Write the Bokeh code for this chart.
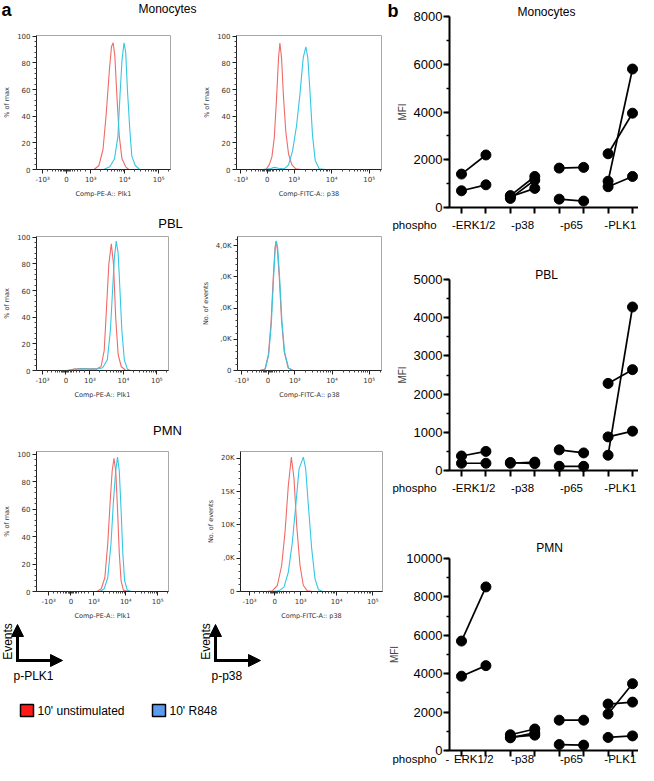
import numpy as np
from bokeh.plotting import figure
from bokeh.layouts import row, column
from bokeh.models import (Range1d, FixedTicker, Arrow, NormalHead, SingleIntervalTicker)
from bokeh.core.properties import value
from bokeh.embed import file_html
from bokeh.resources import INLINE

RED = "#ef6b67"
CYAN = "#35c6e4"
FLOW_FONT = "DejaVu Sans"
SANS = "Liberation Sans"

# ---------------- panel a : flow cytometry histograms ----------------
# x = biexponential display position in decades (-10^3 -> 1.58, 0 -> 2.28, 10^3 -> 3, 10^4 -> 4, 10^5 -> 5)
hist_tick_pos = [1.58, 2.28, 3.0, 4.0, 5.0]
hist_tick_labels = ["-10³", "0", "10³", "10⁴", "10⁵"]

mono_plk1_unstim_x = [1.4, 3.10, 3.24, 3.36, 3.45, 3.55, 3.61, 3.66, 3.71, 3.77, 3.84, 3.92, 4.03, 4.12, 5.35]
mono_plk1_unstim_y = [0, 0, 3, 15, 40, 75, 92, 95, 85, 55, 25, 8, 2, 0, 0]
mono_plk1_r848_x = [1.4, 3.38, 3.56, 3.70, 3.80, 3.86, 3.92, 3.98, 4.03, 4.08, 4.15, 4.21, 4.31, 4.44, 5.35]
mono_plk1_r848_y = [0, 0, 2, 8, 25, 55, 82, 95, 88, 60, 30, 10, 3, 0, 0]

mono_p38_unstim_x = [1.4, 2.244, 2.333, 2.404, 2.467, 2.529, 2.582, 2.618, 2.662, 2.716, 2.778, 2.849, 2.938, 3.044, 3.178, 5.35]
mono_p38_unstim_y = [0, 0, 3.5, 9.3, 23.3, 53.5, 83.7, 94.9, 83.7, 53.5, 27.9, 11.6, 3.5, 0.5, 0, 0]
mono_p38_r848_x = [1.4, 2.156, 2.378, 2.467, 2.582, 2.733, 2.849, 2.956, 3.062, 3.151, 3.24, 3.311, 3.364, 3.427, 3.489, 3.56, 3.667, 3.844, 5.35]
mono_p38_r848_y = [0, 0, 0.7, 1.6, 0.9, 0.5, 3.5, 14, 32.6, 55.8, 83.7, 91.9, 83.7, 55.8, 25.6, 7, 0.5, 0, 0]

pbl_plk1_unstim_x = [1.4, 2.315, 2.5, 2.731, 2.963, 3.194, 3.333, 3.426, 3.491, 3.565, 3.639, 3.704, 3.769, 3.843, 3.935, 4.074, 5.35]
pbl_plk1_unstim_y = [0, 0, 1, 1.5, 1.2, 1.2, 3, 15, 45, 80, 95, 80, 40, 12, 3, 0, 0]
pbl_plk1_r848_x = [1.4, 2.315, 2.5, 2.731, 2.963, 3.194, 3.38, 3.519, 3.611, 3.676, 3.731, 3.787, 3.843, 3.898, 3.954, 4.028, 4.12, 4.213, 5.35]
pbl_plk1_r848_y = [0, 0, 0.8, 1.2, 1.0, 1.0, 2, 8, 30, 60, 85, 97, 88, 60, 30, 8, 1, 0, 0]

# counts in thousands of events
pbl_p38_unstim_x = [1.4, 2.067, 2.2, 2.289, 2.36, 2.422, 2.467, 2.493, 2.529, 2.582, 2.644, 2.716, 2.822, 2.956, 5.35]
pbl_p38_unstim_y = [0, 0, 0.05, 0.5, 1.5, 3.0, 3.9, 4.13, 3.9, 3.0, 1.6, 0.6, 0.08, 0, 0]
pbl_p38_r848_x = [1.4, 2.067, 2.209, 2.298, 2.369, 2.431, 2.476, 2.502, 2.538, 2.591, 2.653, 2.724, 2.831, 2.956, 5.35]
pbl_p38_r848_y = [0, 0, 0.05, 0.5, 1.5, 3.0, 3.95, 4.15, 3.95, 3.0, 1.6, 0.6, 0.08, 0, 0]

pmn_plk1_unstim_x = [1.2, 3.093, 3.231, 3.343, 3.435, 3.509, 3.574, 3.63, 3.685, 3.741, 3.796, 3.852, 3.926, 4.065, 5.34]
pmn_plk1_unstim_y = [0, 0, 2, 10, 35, 65, 88, 97, 88, 60, 28, 8, 1, 0, 0]
pmn_plk1_r848_x = [1.2, 3.185, 3.324, 3.435, 3.537, 3.611, 3.685, 3.741, 3.796, 3.852, 3.907, 3.963, 4.046, 4.157, 5.34]
pmn_plk1_r848_y = [0, 0, 2, 10, 35, 65, 88, 98, 88, 60, 28, 8, 1, 0, 0]

pmn_p38_unstim_x = [1.33, 2.074, 2.213, 2.352, 2.472, 2.565, 2.657, 2.741, 2.815, 2.889, 2.981, 3.074, 3.185, 3.324, 5.27]
pmn_p38_unstim_y = [0, 0, 0.1, 0.9, 3.9, 8.9, 15.9, 20.15, 16.9, 9.9, 3.9, 0.9, 0.1, 0, 0]
pmn_p38_r848_x = [1.33, 2.213, 2.398, 2.537, 2.657, 2.769, 2.88, 2.954, 3.074, 3.139, 3.213, 3.306, 3.398, 3.491, 3.602, 5.27]
pmn_p38_r848_y = [0, 0, 0.1, 0.65, 2.9, 7.4, 13.9, 18.4, 20.15, 18.4, 12.9, 6.4, 1.9, 0.3, 0, 0]

pct_ticks = [0, 20, 40, 60, 80, 100]
pbl_count_ticks = [0, 1, 2, 3, 4]
pbl_count_labels = ["0", ",0K", ",0K", ",0K", "4,0K"]
pmn_count_ticks = [0, 5, 10, 15, 20]
pmn_count_labels = ["0", ",0K", "10K", "15K", "20K"]

row_titles = ["Monocytes", "PBL", "PMN"]
legend_labels = ["10' unstimulated", "10'  R848"]
legend_colors = ["#ff1a1a", "#5b9cf0"]

# ---------------- panel b : MFI unstimulated (left dot) vs R848 (right dot) ----------------
mfi_markers = ["-ERK1/2", "-p38", "-p65", "-PLK1"]
mono_unstim = [[1400, 700], [500, 450, 380], [1650, 350], [2250, 1100, 870]]
mono_r848 = [[2200, 950], [1300, 800, 1150], [1680, 270], [3950, 5800, 1300]]
pbl_unstim = [[380, 190], [210, 190], [540, 110], [2280, 880, 400]]
pbl_r848 = [[500, 190], [180, 220], [460, 110], [2640, 1030, 4280]]
pmn_unstim = [[5700, 3870], [820, 700, 660], [1580, 310], [1900, 2420, 680]]
pmn_r848 = [[8520, 4420], [1120, 800, 920], [1580, 280], [3480, 2520, 760]]


def minor_hist_ticks():
    neg = [172, 186, 196, 204, 210, 215, 219, 222, 225]
    pos = [231, 234, 237, 241, 246, 252, 260, 270, 284]
    dec = []
    for base in (300, 400):
        dec += [int(round(base + 100 * np.log10(k))) for k in range(2, 10)]
    dec += [530]
    return neg + pos + dec


def hist_fig(curves, xr, yr, ylabel, xlabel, yticks, yminor, ylabels,
             w, h, bl, br, bt, bb):
    p = figure(width=w, height=h, x_range=Range1d(xr[0] * 100, xr[1] * 100),
               y_range=Range1d(*yr), toolbar_location=None, output_backend="svg",
               min_border_left=bl, min_border_right=br, min_border_top=bt,
               min_border_bottom=bb)
    p.grid.visible = False
    p.outline_line_color = "#a8a8a8"
    for xs, ys, c in curves:
        p.line(np.array(xs) * 100, ys, line_color=c, line_width=1.1)
    xa = p.xaxis[0]
    ticks = [int(round(t * 100)) for t in hist_tick_pos]
    xa.ticker = FixedTicker(ticks=ticks, minor_ticks=minor_hist_ticks())
    xa.major_label_overrides = dict(zip(ticks, hist_tick_labels))
    ya = p.yaxis[0]
    ya.ticker = FixedTicker(ticks=yticks, minor_ticks=yminor)
    if ylabels is not None:
        ya.major_label_overrides = dict(zip(yticks, ylabels))
    for ax in (xa, ya):
        ax.axis_line_color = "#222222"
        ax.major_tick_line_color = "#222222"
        ax.minor_tick_line_color = "#444444"
        ax.major_tick_in = 0
        ax.major_tick_out = 4
        ax.minor_tick_in = 0
        ax.minor_tick_out = 2
        ax.major_label_text_font = FLOW_FONT
        ax.major_label_text_font_size = "7px"
        ax.major_label_text_color = "#333333"
        ax.major_label_standoff = 2
        ax.axis_label_text_font = FLOW_FONT
        ax.axis_label_text_font_size = "6.5px"
        ax.axis_label_text_font_style = "normal"
        ax.axis_label_text_color = "#333333"
        ax.axis_label_standoff = 3
    xa.axis_label = xlabel
    ya.axis_label = ylabel
    return p


def blank(w, h):
    p = figure(width=w, height=h, x_range=Range1d(0, w), y_range=Range1d(h, 0),
               toolbar_location=None, output_backend="svg", min_border=0,
               x_axis_type=None, y_axis_type=None)
    p.outline_line_color = None
    p.grid.visible = False
    return p


def header(w, h, items):
    p = blank(w, h)
    for (x, y, txt, size, style) in items:
        p.text(x=[x], y=[y], text=[txt], text_font=value(SANS), text_font_size=size,
               text_font_style=style, text_align="center", text_baseline="middle",
               text_color="black")
    return p


pct_minor = [v for v in range(0, 101, 4) if v % 20]
LW = 385

hdr1 = header(LW, 30, [(6, 9, "a", "18px", "bold"), (167, 8, row_titles[0], "12px", "normal")])
h1 = hist_fig([(mono_plk1_unstim_x, mono_plk1_unstim_y, RED), (mono_plk1_r848_x, mono_plk1_r848_y, CYAN)],
              (1.4, 5.35), (0, 100.5), "% of max", "Comp-PE-A:: Plk1", pct_ticks, pct_minor, None,
              180, 170, 27, 10, 5, 25)
h2 = hist_fig([(mono_p38_unstim_x, mono_p38_unstim_y, RED), (mono_p38_r848_x, mono_p38_r848_y, CYAN)],
              (1.46, 5.33), (0, 100.5), "% of max", "Comp-FITC-A:: p38", pct_ticks, pct_minor, None,
              205, 170, 56, 4, 5, 25)

hdr2 = header(LW, 31, [(170, 23, row_titles[1], "13px", "normal")])
h3 = hist_fig([(pbl_plk1_unstim_x, pbl_plk1_unstim_y, RED), (pbl_plk1_r848_x, pbl_plk1_r848_y, CYAN)],
              (1.4, 5.35), (0, 100.5), "% of max", "Comp-PE-A:: Plk1", pct_ticks, pct_minor, None,
              180, 170, 27, 12, 5, 25)
h4 = hist_fig([(pbl_p38_unstim_x, pbl_p38_unstim_y, RED), (pbl_p38_r848_x, pbl_p38_r848_y, CYAN)],
              (1.46, 5.33), (0, 4.29), "No. of events", "Comp-FITC-A:: p38", pbl_count_ticks,
              [round(v * 0.2, 1) for v in range(0, 22) if v % 5], pbl_count_labels,
              205, 170, 57, 4, 5, 25)

hdr3 = header(LW, 45, [(167, 29, row_titles[2], "13px", "normal")])
h5 = hist_fig([(pmn_plk1_unstim_x, pmn_plk1_unstim_y, RED), (pmn_plk1_r848_x, pmn_plk1_r848_y, CYAN)],
              (1.2, 5.34), (0, 102), "% of max", "Comp-PE-A:: Plk1", pct_ticks, pct_minor, None,
              180, 176, 27, 12, 5, 25)
h6 = hist_fig([(pmn_p38_unstim_x, pmn_p38_unstim_y, RED), (pmn_p38_r848_x, pmn_p38_r848_y, CYAN)],
              (1.33, 5.27), (0, 21.0), "No. of events", "Comp-FITC-A:: p38", pmn_count_ticks,
              [v for v in range(0, 21) if v % 5], pmn_count_labels,
              205, 176, 60, 3, 4, 31)

# bottom-left decoration: axis arrows and legend
dec = blank(LW, 143)
for cx, lab in ((17, "p-PLK1"), (215, "p-p38")):
    dec.add_layout(Arrow(end=NormalHead(size=12, fill_color="black", line_color="black"),
                         x_start=cx, y_start=39.5, x_end=cx, y_end=2,
                         line_width=3, line_color="black"))
    dec.add_layout(Arrow(end=NormalHead(size=12, fill_color="black", line_color="black"),
                         x_start=cx - 1.5, y_start=38, x_end=cx + 45, y_end=38,
                         line_width=3, line_color="black"))
    dec.text(x=[cx - 10], y=[19], text=["Events"], angle=np.pi / 2,
             text_font=value(SANS), text_font_size="12px", text_align="center",
             text_baseline="middle")
    dec.text(x=[cx - 4], y=[53], text=[lab], text_font=value(SANS), text_font_size="12px",
             text_align="left", text_baseline="middle")
for lx, lab, col in zip((20, 152), legend_labels, legend_colors):
    dec.quad(left=[lx], right=[lx + 13], top=[82], bottom=[94], fill_color=col,
             line_color="black", line_width=1.5)
    dec.text(x=[lx + 17], y=[88.5], text=[lab], text_font=value(SANS), text_font_size="12px",
             text_align="left", text_baseline="middle")

left_col = column(hdr1, row(h1, h2), hdr2, row(h3, h4), hdr3, row(h5, h6), dec)

# ---------------- right column ----------------
RW = 253
PXU = 24.43                       # pixels per category step
X_LEFT = 1 + (LW - 461) / PXU     # data x at the left edge of the right column
X_RIGHT = X_LEFT + RW / PXU
Y_AXIS_X = 1 - 12 / PXU           # where the y axis crosses


def mfi_fig(title, unstim, r848, ymax, step, fig_top, fig_h, y0_abs, ytop_abs,
            title_gap, title_dx, lab_gap, cat_texts, extra_texts, extra_dx, show_b=False):
    upp = ymax / (y0_abs - ytop_abs)          # data units per pixel
    y_lo = -(fig_top + fig_h - y0_abs) * upp
    y_hi = ymax + (ytop_abs - fig_top) * upp
    p = figure(width=RW, height=fig_h, x_range=Range1d(X_LEFT, X_RIGHT),
               y_range=Range1d(y_lo, y_hi), toolbar_location=None, output_backend="svg",
               min_border=0)
    p.grid.visible = False
    p.outline_line_color = None

    xs_l, ys_l, px, py = [], [], [], []
    for i, (b, a) in enumerate(zip(unstim, r848)):
        x0, x1 = 2 * i + 1, 2 * i + 2
        for vb, va in zip(b, a):
            xs_l.append([x0, x1])
            ys_l.append([vb, va])
            px += [x0, x1]
            py += [vb, va]
    p.multi_line(xs_l, ys_l, line_color="black", line_width=1.7)
    p.scatter(px, py, size=10, color="black")

    ya = p.yaxis[0]
    ya.fixed_location = Y_AXIS_X
    ya.ticker = SingleIntervalTicker(interval=step, num_minor_ticks=2)
    ya.bounds = (0, ymax)
    ya.axis_label = "MFI"
    ya.axis_label_text_font = SANS
    ya.axis_label_text_font_size = "10px"
    ya.axis_label_text_font_style = "normal"
    ya.axis_label_standoff = 3
    xa = p.xaxis[0]
    xa.fixed_location = 0
    xa.bounds = (Y_AXIS_X, X_RIGHT + 1)
    xa.ticker = FixedTicker(ticks=list(range(1, 9)), minor_ticks=[])
    xa.major_label_overrides = {i: "" for i in range(1, 9)}
    for ax in (xa, ya):
        ax.axis_line_width = 2
        ax.axis_line_color = "black"
        ax.major_tick_line_width = 2
        ax.major_tick_in = 0
        ax.major_tick_out = 6
        ax.minor_tick_in = 0
        ax.minor_tick_out = 3
        ax.minor_tick_line_width = 1.5
        ax.major_label_text_font = SANS
        ax.major_label_text_font_size = "13px"
        ax.major_label_text_color = "black"
        ax.major_label_standoff = 1

    # panel title
    p.text(x=[1 + title_dx / PXU], y=[ymax + title_gap * upp], text=[title],
           text_font=value(SANS), text_font_size="12px", text_align="center",
           text_baseline="middle")
    # category labels centred under each unstimulated / R848 pair, plus extra texts
    lx = [2 * i + 1.5 for i in range(len(cat_texts))] + [1 + d / PXU for d in extra_dx]
    lt = list(cat_texts) + list(extra_texts)
    p.text(x=lx, y=[-lab_gap * upp] * len(lx), text=lt, text_font=value(SANS),
           text_font_size="11.5px", text_align="center", text_baseline="middle")
    if show_b:
        p.text(x=[1 + (387 - 461) / PXU], y=[y_hi], text=["b"], text_font=value(SANS),
               text_font_size="18px", text_font_style="bold", text_align="left",
               text_baseline="top")
    return p


m1 = mfi_fig("Monocytes", mono_unstim, mono_r848, 8000, 2000, 0, 262, 207, 16,
             5, 85, 17, mfi_markers, ["phospho"], [-47], show_b=True)
m2 = mfi_fig("PBL", pbl_unstim, pbl_r848, 5000, 1000, 262, 276, 470, 279,
             5, 85, 17, mfi_markers, ["phospho"], [-47])
pmn_markers = ["ERK1/2"] + mfi_markers[1:]
m3 = mfi_fig("PMN", pmn_unstim, pmn_r848, 10000, 2000, 538, 227, 750, 558,
             11, 88, 8, pmn_markers, ["phospho", "-"], [-47, -14])

right_col = column(m1, m2, m3)
layout = row(left_col, right_col)

open("out.html", "w").write(file_html(layout, INLINE))
